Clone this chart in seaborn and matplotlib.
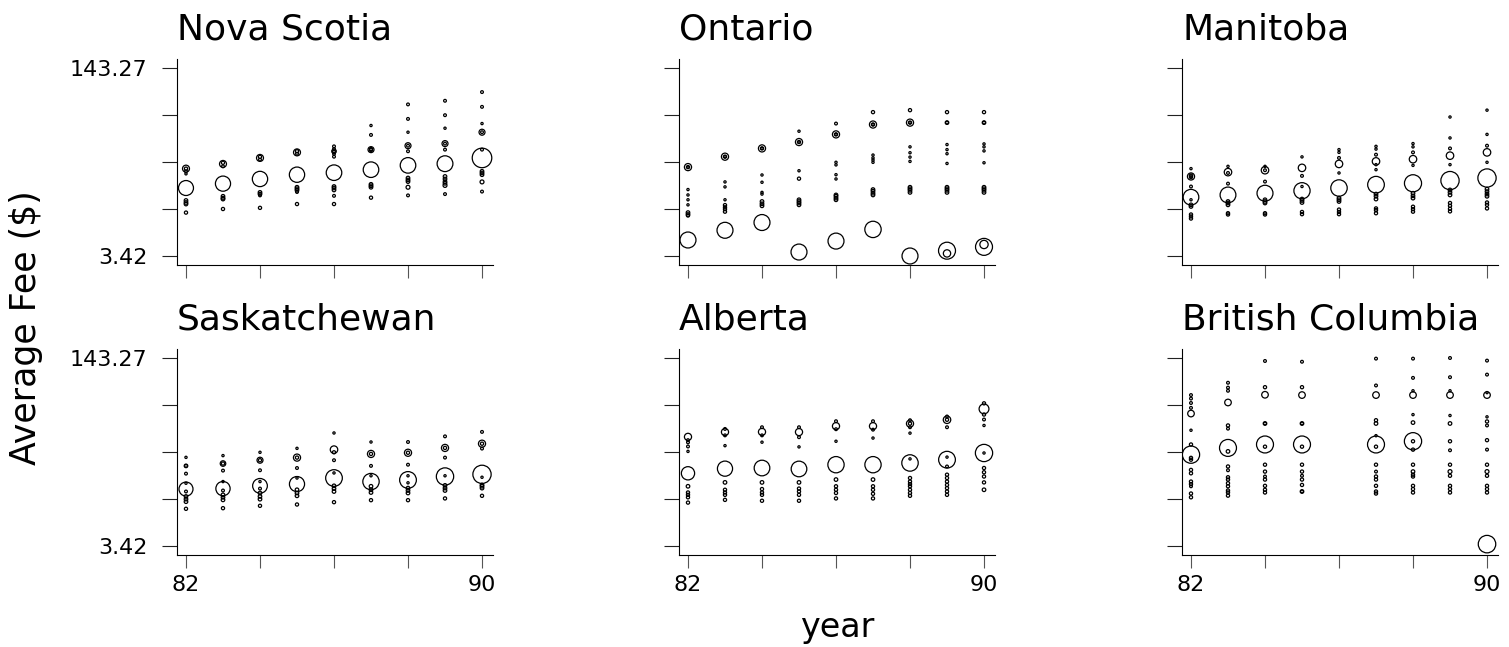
import matplotlib
matplotlib.use('Agg')
import matplotlib.pyplot as plt
import seaborn as sns
import pandas as pd

# ── Data: (year, average fee in $, weight) per province ──────
nova_scotia = [
    (82, 13.2, 88), (82, 19.4, 19), (82, 19.4, 4), (82, 18.4, 3), (82, 17.5, 2),
    (82, 10.3, 5), (82, 9.9, 5), (82, 9.6, 5), (82, 8.1, 4),
    (83, 14.4, 90), (83, 21.3, 19), (83, 21.8, 4), (83, 20.3, 3),
    (83, 11.2, 5), (83, 10.8, 5), (83, 10.6, 5), (83, 8.7, 4),
    (84, 15.8, 92), (84, 24.0, 19), (84, 24.5, 4), (84, 23.2, 3),
    (84, 12.1, 5), (84, 11.7, 5), (84, 11.4, 3), (84, 8.9, 4),
    (85, 17.2, 92), (85, 26.8, 19), (85, 27.4, 4), (85, 26.1, 3),
    (85, 13.4, 5), (85, 13.0, 5), (85, 12.6, 5), (85, 12.2, 3), (85, 9.6, 4),
    (86, 17.9, 95), (86, 30.2, 3), (86, 28.6, 3), (86, 27.4, 8), (86, 27.4, 3),
    (86, 26.1, 3), (86, 24.6, 3), (86, 13.6, 5), (86, 13.2, 5), (86, 12.7, 5),
    (86, 11.3, 3), (86, 9.6, 4),
    (87, 19.0, 95), (87, 45.7, 2), (87, 37.9, 3), (87, 28.3, 14), (87, 28.6, 4),
    (87, 28.0, 4), (87, 14.2, 5), (87, 13.8, 5), (87, 13.4, 5), (87, 10.9, 4),
    (88, 20.7, 95), (88, 69.5, 3), (88, 52.1, 3), (88, 40.0, 2), (88, 30.6, 14),
    (88, 30.6, 3), (88, 27.4, 3), (88, 16.1, 5), (88, 15.5, 5), (88, 15.0, 5),
    (88, 13.4, 6), (88, 11.4, 3),
    (89, 21.4, 98), (89, 74.7, 3), (89, 56.1, 3), (89, 43.3, 2), (89, 31.9, 14),
    (89, 31.9, 3), (89, 28.3, 3), (89, 16.6, 5), (89, 15.8, 5), (89, 15.0, 5),
    (89, 14.5, 5), (89, 13.9, 6), (89, 11.7, 3),
    (90, 24.0, 150), (90, 88.8, 3), (90, 66.2, 3), (90, 47.5, 2), (90, 40.0, 14),
    (90, 40.0, 3), (90, 28.3, 3), (90, 18.4, 5), (90, 17.8, 5), (90, 17.2, 5),
    (90, 14.9, 6), (90, 12.3, 3),
]

ontario = [
    (82, 4.7, 100), (82, 20.0, 20), (82, 20.0, 4), (82, 20.0, 2), (82, 12.8, 2),
    (82, 11.5, 2), (82, 10.45, 2), (82, 9.45, 2), (82, 8.1, 5), (82, 7.8, 5), (82, 7.65, 4),
    (83, 5.7, 100), (83, 24.6, 20), (83, 24.6, 4), (83, 24.6, 2), (83, 14.9, 2),
    (83, 13.5, 2), (83, 10.45, 2), (83, 9.4, 4), (83, 9.0, 4), (83, 8.67, 4), (83, 8.25, 4),
    (84, 6.65, 100), (84, 29.0, 20), (84, 29.0, 4), (84, 29.0, 2), (84, 17.1, 2),
    (84, 14.8, 2), (84, 12.1, 2), (84, 11.7, 2), (84, 10.1, 5), (84, 9.65, 5), (84, 9.27, 5),
    (85, 3.7, 100), (85, 40.8, 2), (85, 32.9, 20), (85, 32.9, 4), (85, 32.9, 2),
    (85, 18.6, 2), (85, 15.9, 4), (85, 10.45, 5), (85, 10.1, 5), (85, 9.8, 5), (85, 9.45, 5),
    (86, 4.6, 100), (86, 47.5, 3), (86, 38.3, 20), (86, 38.3, 4), (86, 38.3, 2),
    (86, 22.0, 2), (86, 20.9, 2), (86, 17.2, 2), (86, 15.8, 2), (86, 11.5, 5),
    (86, 11.2, 5), (86, 10.8, 5), (86, 10.45, 5),
    (87, 5.8, 105), (87, 59.6, 4), (87, 46.6, 20), (87, 46.6, 4), (87, 46.6, 2),
    (87, 25.4, 2), (87, 24.0, 2), (87, 23.0, 2), (87, 22.0, 2), (87, 12.8, 5),
    (87, 12.4, 5), (87, 11.9, 5), (87, 11.5, 5),
    (88, 3.42, 100), (88, 62.0, 4), (88, 48.4, 20), (88, 48.4, 4), (88, 48.4, 2),
    (88, 29.9, 2), (88, 26.6, 2), (88, 24.4, 2), (88, 22.4, 2), (88, 13.4, 5),
    (88, 13.0, 5), (88, 12.6, 5), (88, 12.1, 5),
    (89, 3.8, 113), (89, 3.6, 21), (89, 59.6, 4), (89, 48.4, 5), (89, 48.4, 3),
    (89, 31.3, 2), (89, 28.3, 2), (89, 26.1, 2), (89, 21.5, 2), (89, 13.4, 5),
    (89, 13.0, 5), (89, 12.6, 5), (89, 12.1, 5),
    (90, 4.1, 113), (90, 4.3, 27), (90, 59.6, 4), (90, 48.4, 5), (90, 48.4, 3),
    (90, 31.7, 2), (90, 29.9, 2), (90, 27.6, 2), (90, 21.8, 2), (90, 13.4, 5),
    (90, 13.0, 5), (90, 12.6, 5), (90, 12.1, 5),
]

manitoba = [
    (82, 11.0, 96), (82, 19.4, 2), (82, 16.6, 20), (82, 16.6, 4), (82, 16.9, 4),
    (82, 16.3, 3), (82, 13.6, 3), (82, 10.45, 2), (82, 9.45, 5), (82, 9.15, 5),
    (82, 7.8, 4), (82, 7.5, 4), (82, 7.2, 4),
    (83, 11.5, 98), (83, 20.3, 2), (83, 18.1, 22), (83, 17.8, 3), (83, 14.4, 3),
    (83, 10.1, 5), (83, 9.8, 5), (83, 9.45, 5), (83, 8.0, 4), (83, 7.8, 4),
    (84, 11.9, 100), (84, 20.3, 2), (84, 18.8, 22), (84, 18.8, 3), (84, 15.0, 3),
    (84, 10.45, 5), (84, 10.1, 5), (84, 9.8, 5), (84, 8.0, 4), (84, 7.8, 4),
    (85, 12.5, 103), (85, 24.5, 2), (85, 19.7, 22), (85, 16.8, 3), (85, 13.6, 2),
    (85, 10.6, 5), (85, 10.3, 5), (85, 9.9, 5), (85, 8.2, 4), (85, 7.85, 4),
    (86, 13.2, 106), (86, 28.3, 2), (86, 26.8, 2), (86, 24.0, 3), (86, 21.3, 22),
    (86, 17.8, 2), (86, 10.8, 5), (86, 10.45, 5), (86, 10.1, 5), (86, 8.6, 4),
    (86, 8.2, 4), (86, 7.85, 4),
    (87, 14.1, 109), (87, 30.2, 2), (87, 28.6, 2), (87, 25.6, 3), (87, 22.4, 22),
    (87, 21.0, 2), (87, 19.0, 2), (87, 11.7, 5), (87, 11.2, 5), (87, 10.6, 5),
    (87, 8.8, 4), (87, 8.5, 4), (87, 8.0, 4),
    (88, 14.5, 115), (88, 31.9, 2), (88, 29.9, 2), (88, 26.8, 3), (88, 23.4, 22),
    (88, 20.7, 2), (88, 11.9, 5), (88, 11.3, 5), (88, 10.8, 5), (88, 9.1, 4),
    (88, 8.67, 4), (88, 8.25, 4),
    (89, 15.3, 131), (89, 54.1, 2), (89, 35.7, 2), (89, 29.0, 3), (89, 25.1, 22),
    (89, 21.0, 2), (89, 12.7, 5), (89, 12.1, 5), (89, 11.5, 5), (89, 9.8, 4),
    (89, 9.27, 4), (89, 8.73, 4), (89, 8.3, 4),
    (90, 16.1, 131), (90, 62.0, 2), (90, 38.3, 2), (90, 30.6, 3), (90, 26.8, 22),
    (90, 22.0, 2), (90, 12.9, 5), (90, 12.3, 5), (90, 11.7, 5), (90, 11.2, 5),
    (90, 9.9, 4), (90, 9.45, 4), (90, 8.8, 4),
]

saskatchewan = [
    (82, 10.6, 77), (82, 19.9, 2), (82, 16.8, 5), (82, 16.8, 3), (82, 14.4, 3),
    (82, 11.9, 2), (82, 10.1, 3), (82, 9.15, 5), (82, 8.67, 5), (82, 8.25, 5), (82, 7.16, 4),
    (83, 10.7, 80), (83, 20.6, 2), (83, 17.6, 12), (83, 17.6, 4), (83, 15.3, 3),
    (83, 12.3, 2), (83, 10.3, 3), (83, 9.45, 5), (83, 9.0, 5), (83, 8.55, 5), (83, 7.25, 4),
    (84, 11.3, 85), (84, 22.0, 2), (84, 18.8, 14), (84, 18.8, 4), (84, 15.4, 3),
    (84, 12.3, 2), (84, 10.7, 3), (84, 9.8, 5), (84, 9.15, 5), (84, 8.67, 5), (84, 7.6, 4),
    (85, 11.7, 90), (85, 23.8, 2), (85, 19.8, 20), (85, 19.8, 4), (85, 16.1, 3),
    (85, 13.2, 2), (85, 10.45, 5), (85, 9.8, 5), (85, 9.27, 5), (85, 7.8, 4),
    (86, 13.2, 109), (86, 32.3, 2), (86, 23.2, 22), (86, 22.0, 4), (86, 18.8, 3),
    (86, 14.6, 2), (86, 11.3, 5), (86, 10.7, 5), (86, 10.1, 5), (86, 8.17, 4),
    (87, 12.3, 105), (87, 27.0, 2), (87, 21.3, 20), (87, 21.3, 4), (87, 16.8, 3),
    (87, 13.8, 2), (87, 11.2, 5), (87, 10.45, 5), (87, 9.9, 5), (87, 8.5, 4),
    (88, 12.7, 110), (88, 27.0, 3), (88, 21.8, 20), (88, 21.8, 4), (88, 17.2, 3),
    (88, 13.8, 2), (88, 12.0, 2), (88, 10.8, 5), (88, 10.3, 5), (88, 9.8, 5), (88, 8.5, 4),
    (89, 13.6, 118), (89, 30.2, 3), (89, 24.0, 20), (89, 24.0, 4), (89, 19.8, 3),
    (89, 13.8, 2), (89, 11.4, 5), (89, 10.8, 5), (89, 10.3, 5), (89, 8.8, 4),
    (90, 14.2, 131), (90, 33.0, 3), (90, 26.1, 20), (90, 26.1, 4), (90, 23.7, 3),
    (90, 13.4, 2), (90, 11.5, 5), (90, 11.2, 5), (90, 10.8, 5), (90, 9.27, 4),
]

alberta = [
    (82, 14.5, 69), (82, 29.9, 20), (82, 28.0, 3), (82, 26.8, 3), (82, 24.7, 3),
    (82, 22.4, 2), (82, 11.2, 5), (82, 9.9, 4), (82, 9.45, 4), (82, 9.0, 4), (82, 8.1, 4),
    (83, 15.9, 90), (83, 32.9, 20), (83, 35.0, 3), (83, 30.8, 3), (83, 25.1, 2),
    (83, 12.1, 5), (83, 10.45, 4), (83, 9.9, 4), (83, 9.45, 4), (83, 8.55, 4),
    (84, 16.1, 96), (84, 33.0, 20), (84, 36.2, 3), (84, 30.8, 3), (84, 26.9, 2),
    (84, 12.1, 5), (84, 10.6, 4), (84, 9.9, 4), (84, 9.45, 4), (84, 8.4, 4),
    (85, 15.8, 96), (85, 32.9, 20), (85, 36.2, 3), (85, 29.7, 3), (85, 24.5, 2),
    (85, 12.1, 5), (85, 10.7, 4), (85, 10.1, 4), (85, 9.45, 4), (85, 8.4, 4),
    (86, 17.2, 104), (86, 37.0, 20), (86, 40.8, 3), (86, 34.8, 3), (86, 27.4, 2),
    (86, 12.8, 5), (86, 11.2, 4), (86, 10.45, 4), (86, 9.8, 4), (86, 8.8, 4),
    (87, 17.2, 104), (87, 37.0, 20), (87, 40.8, 3), (87, 34.5, 3), (87, 29.2, 2),
    (87, 12.8, 5), (87, 11.2, 4), (87, 10.45, 4), (87, 9.65, 4), (87, 8.8, 4),
    (88, 17.8, 106), (88, 19.3, 2), (88, 38.9, 20), (88, 38.9, 4), (88, 41.6, 3),
    (88, 36.2, 3), (88, 32.2, 2), (88, 13.2, 4), (88, 12.3, 4), (88, 11.7, 4),
    (88, 11.2, 4), (88, 10.45, 4), (88, 9.8, 4), (88, 9.27, 4),
    (89, 19.0, 110), (89, 20.0, 2), (89, 42.0, 22), (89, 42.0, 4), (89, 44.8, 3),
    (89, 36.2, 3), (89, 16.6, 3), (89, 14.1, 4), (89, 13.2, 4), (89, 12.3, 4),
    (89, 11.5, 4), (89, 10.8, 4), (89, 10.1, 4), (89, 9.45, 4),
    (90, 21.7, 117), (90, 21.7, 2), (90, 52.1, 38), (90, 58.2, 4), (90, 46.6, 4),
    (90, 42.2, 3), (90, 37.5, 2), (90, 16.1, 4), (90, 14.8, 4), (90, 13.6, 4),
    (90, 12.1, 4), (90, 10.45, 5),
]

british_columbia = [
    (82, 21.0, 117), (82, 47.5, 17), (82, 68.6, 3), (82, 64.0, 3), (82, 58.6, 3),
    (82, 53.2, 3), (82, 34.1, 2), (82, 25.7, 4), (82, 19.7, 4), (82, 19.0, 4),
    (82, 15.5, 4), (82, 14.5, 4), (82, 12.3, 4), (82, 11.7, 4), (82, 11.2, 3),
    (82, 9.7, 4), (82, 9.0, 4),
    (83, 24.0, 113), (83, 59.2, 17), (83, 87.6, 3), (83, 79.5, 3), (83, 74.7, 3),
    (83, 37.5, 4), (83, 35.2, 3), (83, 22.4, 5), (83, 16.6, 4), (83, 15.4, 3),
    (83, 13.4, 4), (83, 12.8, 4), (83, 11.9, 4), (83, 11.2, 4), (83, 10.3, 4),
    (83, 9.9, 4), (83, 9.3, 4),
    (84, 25.7, 113), (84, 135.0, 3), (84, 80.2, 4), (84, 69.0, 17), (84, 39.0, 5),
    (84, 39.0, 3), (84, 24.6, 4), (84, 17.2, 4), (84, 15.0, 4), (84, 13.6, 3),
    (84, 12.8, 4), (84, 11.3, 4), (84, 10.45, 4), (84, 9.9, 4),
    (85, 25.7, 113), (85, 133.0, 3), (85, 80.2, 4), (85, 68.6, 17), (85, 39.0, 5),
    (85, 39.0, 3), (85, 24.6, 4), (85, 17.2, 4), (85, 15.0, 4), (85, 13.8, 3),
    (85, 12.8, 4), (85, 11.5, 4), (85, 10.1, 5), (85, 10.1, 3),
    (87, 25.7, 113), (87, 141.5, 3), (87, 83.0, 3), (87, 68.6, 17), (87, 41.6, 4),
    (87, 39.0, 5), (87, 30.6, 2), (87, 24.6, 4), (87, 17.2, 4), (87, 15.0, 3),
    (87, 13.6, 4), (87, 12.8, 4), (87, 11.3, 4), (87, 10.1, 4), (87, 9.7, 4),
    (88, 27.4, 117), (88, 141.5, 3), (88, 96.5, 3), (88, 74.7, 2), (88, 68.6, 17),
    (88, 46.5, 2), (88, 39.7, 5), (88, 27.4, 4), (88, 23.2, 4), (88, 17.2, 4),
    (88, 15.0, 5), (88, 14.1, 4), (88, 13.6, 4), (88, 11.3, 4), (88, 10.6, 4), (88, 9.9, 4),
    (89, 143.27, 3), (89, 97.8, 3), (89, 74.7, 2), (89, 68.6, 17), (89, 45.7, 2),
    (89, 39.0, 5), (89, 27.4, 4), (89, 22.9, 3), (89, 17.2, 4), (89, 15.0, 6),
    (89, 13.8, 4), (89, 11.3, 4), (89, 10.6, 4), (89, 9.9, 4),
    (90, 3.55, 120), (90, 136.0, 3), (90, 103.0, 3), (90, 68.6, 17), (90, 72.0, 2),
    (90, 44.5, 2), (90, 40.6, 4), (90, 37.5, 3), (90, 28.0, 4), (90, 23.2, 3),
    (90, 17.2, 4), (90, 15.0, 6), (90, 13.8, 4), (90, 11.3, 4), (90, 10.6, 4), (90, 9.9, 4),
]

provinces = ["Nova Scotia", "Ontario", "Manitoba",
             "Saskatchewan", "Alberta", "British Columbia"]
province_data = [nova_scotia, ontario, manitoba,
                 saskatchewan, alberta, british_columbia]

y_ticks = [3.42, 8.70, 22.14, 56.33, 143.27]
y_ticklabels = ["3.42", "", "", "", "143.27"]
x_ticks = [82, 84, 86, 88, 90]
x_ticklabels = ["82", "", "", "", "90"]

# ── Style ────────────────────────────────────────────────────
sns.set_style("ticks")
plt.rcParams['font.family'] = ['DejaVu Sans']
plt.rcParams['text.color'] = 'black'
plt.rcParams['xtick.labelcolor'] = 'black'
plt.rcParams['ytick.labelcolor'] = 'black'

W, H = 1509, 647
fig = plt.figure(figsize=(W / 100, H / 100), dpi=100)

lefts = [177, 679, 1182]   # px
tops  = [59, 349]          # px
aw, ah = 316, 206          # px

for i, (name, rows) in enumerate(zip(provinces, province_data)):
    r, c = divmod(i, 3)
    ax = fig.add_axes([lefts[c] / W, 1 - (tops[r] + ah) / H, aw / W, ah / H])
    df = pd.DataFrame(rows, columns=["year", "fee", "weight"])

    sns.scatterplot(data=df, x="year", y="fee", size="weight",
                    sizes=(0, 264), size_norm=(0, 200), legend=False,
                    color="black", facecolor="none", edgecolor="black",
                    linewidth=0.9, ax=ax)

    ax.set_yscale("log")
    ax.set_ylim(2.86, 171.3)
    ax.set_xlim(81.757, 90.297)
    ax.minorticks_off()
    ax.set_yticks(y_ticks)
    ax.set_yticklabels(y_ticklabels if c == 0 else [""] * 5)
    ax.set_xticks(x_ticks)
    ax.set_xticklabels(x_ticklabels if r == 1 else [""] * 5)
    ax.set_xlabel("")
    ax.set_ylabel("")

    for side in ["top", "right"]:
        ax.spines[side].set_visible(False)
    for side in ["left", "bottom"]:
        ax.spines[side].set_linewidth(0.8)
        ax.spines[side].set_color("black")

    ax.tick_params(axis="y", length=10.8, width=0.8, color="#222222",
                   labelsize=16, pad=10.5, direction="out")
    ax.tick_params(axis="x", length=9.4, width=0.8, color="#555555",
                   labelsize=16, pad=5, direction="out")
    ax.set_title(name, loc="left", fontsize=26, pad=14, color="black")

fig.text(26 / W, 1 - 328 / H, "Average Fee ($)", rotation=90,
         ha="center", va="center", fontsize=25)
fig.text(837 / W, 1 - 637 / H, "year", ha="center", va="baseline", fontsize=24)

fig.savefig("out.png", dpi=100)
